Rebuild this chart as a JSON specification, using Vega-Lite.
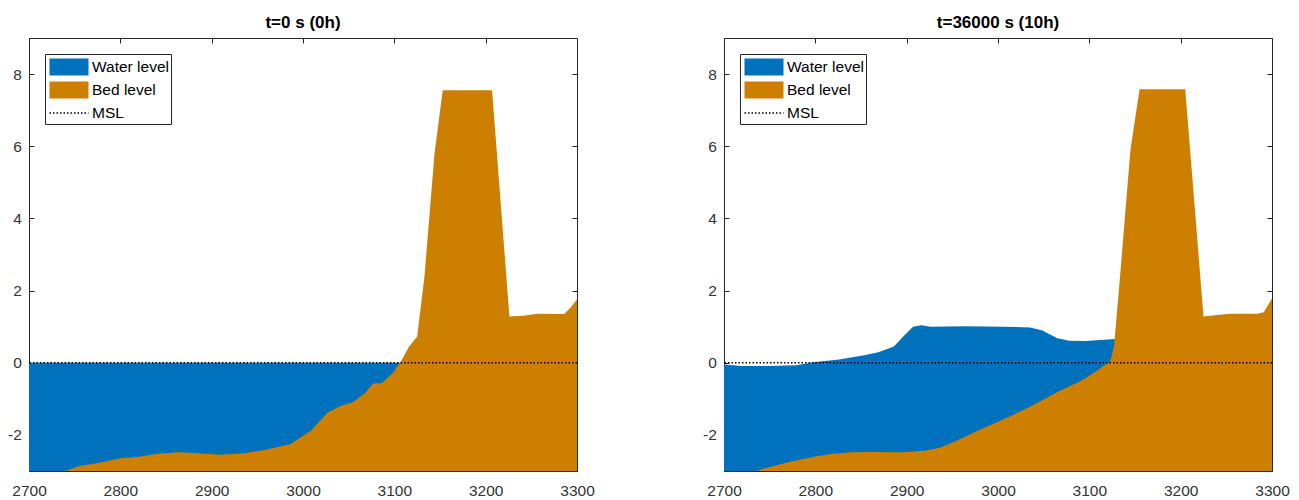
{
  "$schema": "https://vega.github.io/schema/vega-lite/v6.json",
  "padding": {"left": 7, "top": 13, "right": 5, "bottom": 2},
  "background": "white",
  "config": {
    "font": "Liberation Sans",
    "view": {"stroke": "#262626", "strokeWidth": 1},
    "axis": {"grid": false, "domain": false, "tickColor": "#262626", "tickSize": -5, "labelColor": "#333333", "labelFont": "Liberation Sans", "labelFontSize": 15.5, "labelFlush": false, "format": "d"},
    "axisX": {"labelPadding": 17},
    "axisY": {"labelPadding": 12.7, "labelExpr": "datum.value < 0 ? '-' + abs(datum.value) : '' + datum.value"},
    "title": {"font": "Liberation Sans", "fontSize": 17, "fontWeight": "bold", "color": "#000", "offset": 6},
    "legend": {
      "orient": "top-left", "offset": 16, "fillColor": "white", "strokeColor": "#262626", "padding": 2,
      "labelFontSize": 15.5, "labelFont": "Liberation Sans", "labelColor": "#000",
      "symbolSize": 400, "symbolOffset": 11, "labelOffset": 12, "rowPadding": -3,
      "symbolOpacity": 1, "symbolDash": [1.5, 2], "symbolStrokeWidth": 1.5
    }
  },
  "datasets": {
    "msl": [{"y": 0, "series": "MSL"}],
    "water0": [
      {"x": 2700, "y": 0, "series": "Water level"},
      {"x": 3109, "y": 0, "series": "Water level"}
    ],
    "bed0": [
      {"x": 2700, "y": -3.3, "series": "Bed level"},
      {"x": 2743, "y": -2.97, "series": "Bed level"},
      {"x": 2755, "y": -2.86, "series": "Bed level"},
      {"x": 2777, "y": -2.77, "series": "Bed level"},
      {"x": 2800, "y": -2.65, "series": "Bed level"},
      {"x": 2818, "y": -2.61, "series": "Bed level"},
      {"x": 2841, "y": -2.52, "series": "Bed level"},
      {"x": 2864, "y": -2.48, "series": "Bed level"},
      {"x": 2882, "y": -2.5, "series": "Bed level"},
      {"x": 2909, "y": -2.55, "series": "Bed level"},
      {"x": 2936, "y": -2.51, "series": "Bed level"},
      {"x": 2959, "y": -2.41, "series": "Bed level"},
      {"x": 2986, "y": -2.26, "series": "Bed level"},
      {"x": 3000, "y": -2.02, "series": "Bed level"},
      {"x": 3009, "y": -1.88, "series": "Bed level"},
      {"x": 3027, "y": -1.38, "series": "Bed level"},
      {"x": 3041, "y": -1.2, "series": "Bed level"},
      {"x": 3055, "y": -1.09, "series": "Bed level"},
      {"x": 3068, "y": -0.84, "series": "Bed level"},
      {"x": 3077, "y": -0.57, "series": "Bed level"},
      {"x": 3086, "y": -0.57, "series": "Bed level"},
      {"x": 3098, "y": -0.29, "series": "Bed level"},
      {"x": 3107, "y": 0.03, "series": "Bed level"},
      {"x": 3116, "y": 0.44, "series": "Bed level"},
      {"x": 3125, "y": 0.73, "series": "Bed level"},
      {"x": 3133, "y": 2.4, "series": "Bed level"},
      {"x": 3144, "y": 5.8, "series": "Bed level"},
      {"x": 3153, "y": 7.55, "series": "Bed level"},
      {"x": 3207, "y": 7.55, "series": "Bed level"},
      {"x": 3226, "y": 1.28, "series": "Bed level"},
      {"x": 3241, "y": 1.3, "series": "Bed level"},
      {"x": 3257, "y": 1.36, "series": "Bed level"},
      {"x": 3286, "y": 1.35, "series": "Bed level"},
      {"x": 3293, "y": 1.53, "series": "Bed level"},
      {"x": 3300, "y": 1.75, "series": "Bed level"}
    ],
    "water1": [
      {"x": 2700, "y": -0.05, "series": "Water level"},
      {"x": 2719, "y": -0.09, "series": "Water level"},
      {"x": 2749, "y": -0.09, "series": "Water level"},
      {"x": 2779, "y": -0.07, "series": "Water level"},
      {"x": 2800, "y": 0.02, "series": "Water level"},
      {"x": 2826, "y": 0.09, "series": "Water level"},
      {"x": 2852, "y": 0.2, "series": "Water level"},
      {"x": 2869, "y": 0.29, "series": "Water level"},
      {"x": 2886, "y": 0.45, "series": "Water level"},
      {"x": 2896, "y": 0.72, "series": "Water level"},
      {"x": 2907, "y": 1.0, "series": "Water level"},
      {"x": 2916, "y": 1.04, "series": "Water level"},
      {"x": 2926, "y": 1.0, "series": "Water level"},
      {"x": 2963, "y": 1.01, "series": "Water level"},
      {"x": 3005, "y": 1.0, "series": "Water level"},
      {"x": 3035, "y": 0.98, "series": "Water level"},
      {"x": 3048, "y": 0.9, "series": "Water level"},
      {"x": 3065, "y": 0.68, "series": "Water level"},
      {"x": 3078, "y": 0.61, "series": "Water level"},
      {"x": 3095, "y": 0.6, "series": "Water level"},
      {"x": 3112, "y": 0.63, "series": "Water level"},
      {"x": 3125, "y": 0.65, "series": "Water level"},
      {"x": 3128, "y": 0.66, "series": "Water level"}
    ],
    "bed1": [
      {"x": 2700, "y": -3.3, "series": "Bed level"},
      {"x": 2743, "y": -2.94, "series": "Bed level"},
      {"x": 2770, "y": -2.76, "series": "Bed level"},
      {"x": 2800, "y": -2.6, "series": "Bed level"},
      {"x": 2817, "y": -2.53, "series": "Bed level"},
      {"x": 2839, "y": -2.48, "series": "Bed level"},
      {"x": 2864, "y": -2.47, "series": "Bed level"},
      {"x": 2894, "y": -2.48, "series": "Bed level"},
      {"x": 2920, "y": -2.44, "series": "Bed level"},
      {"x": 2937, "y": -2.35, "series": "Bed level"},
      {"x": 2954, "y": -2.17, "series": "Bed level"},
      {"x": 2980, "y": -1.86, "series": "Bed level"},
      {"x": 3005, "y": -1.58, "series": "Bed level"},
      {"x": 3035, "y": -1.22, "series": "Bed level"},
      {"x": 3065, "y": -0.81, "series": "Bed level"},
      {"x": 3091, "y": -0.5, "series": "Bed level"},
      {"x": 3108, "y": -0.23, "series": "Bed level"},
      {"x": 3123, "y": 0.05, "series": "Bed level"},
      {"x": 3127, "y": 0.45, "series": "Bed level"},
      {"x": 3133, "y": 2.2, "series": "Bed level"},
      {"x": 3145, "y": 5.9, "series": "Bed level"},
      {"x": 3155, "y": 7.58, "series": "Bed level"},
      {"x": 3205, "y": 7.58, "series": "Bed level"},
      {"x": 3225, "y": 1.28, "series": "Bed level"},
      {"x": 3253, "y": 1.36, "series": "Bed level"},
      {"x": 3284, "y": 1.36, "series": "Bed level"},
      {"x": 3291, "y": 1.4, "series": "Bed level"},
      {"x": 3300, "y": 1.78, "series": "Bed level"}
    ]
  },
  "spacing": 107,
  "resolve": {"scale": {"color": "independent", "fill": "independent", "stroke": "independent", "shape": "independent"}, "legend": {"color": "independent", "fill": "independent", "stroke": "independent", "shape": "independent"}},
  "hconcat": [
    {
      "title": "t=0 s (0h)",
      "width": 548,
      "height": 433,
      "resolve": {"axis": {"x": "independent", "y": "independent"}},
      "layer": [
        {
          "data": {"name": "water0"},
          "mark": {"type": "area", "clip": true, "opacity": 1},
          "encoding": {
            "x": {"field": "x", "type": "quantitative", "scale": {"domain": [2700, 3300], "nice": false}, "axis": {"values": [2700, 2800, 2900, 3000, 3100, 3200, 3300], "title": null, "orient": "bottom"}},
            "y": {"field": "y", "type": "quantitative", "stack": null, "scale": {"domain": [-3, 9], "nice": false, "zero": false}, "axis": {"values": [-2, 0, 2, 4, 6, 8], "title": null, "orient": "left"}},
            "y2": {"datum": -3},
            "color": {"field": "series", "type": "nominal", "scale": {"domain": ["Water level", "Bed level"], "range": ["#0072BD", "#CC7F00"]}, "legend": null}
          }
        },
        {
          "data": {"name": "bed0"},
          "mark": {"type": "area", "clip": true, "opacity": 1},
          "encoding": {
            "x": {"field": "x", "type": "quantitative", "axis": {"values": [2700, 2800, 2900, 3000, 3100, 3200, 3300], "title": null, "orient": "top", "labels": false}},
            "y": {"field": "y", "type": "quantitative", "stack": null, "axis": {"values": [-2, 0, 2, 4, 6, 8], "title": null, "orient": "right", "labels": false}},
            "y2": {"datum": -3},
            "color": {"field": "series", "type": "nominal", "legend": null}
          }
        },
        {
          "data": {"name": "msl"},
          "mark": {"type": "rule", "color": "#000000", "strokeDash": [1.5, 2], "strokeWidth": 1.5},
          "encoding": {
            "y": {"field": "y", "type": "quantitative", "axis": null}
          }
        },
        {
          "data": {"name": "msl"},
          "mark": {"type": "point", "filled": true, "size": 0, "opacity": 0},
          "encoding": {
            "y": {"field": "y", "type": "quantitative", "axis": null},
            "fill": {"field": "series", "type": "nominal", "scale": {"domain": ["Water level", "Bed level", "MSL"], "range": ["#0072BD", "#CC7F00", "transparent"]}, "legend": {"title": null, "symbolOpacity": 1}},
            "stroke": {"field": "series", "type": "nominal", "scale": {"domain": ["Water level", "Bed level", "MSL"], "range": ["transparent", "transparent", "#000000"]}, "legend": {"title": null, "symbolOpacity": 1}},
            "shape": {"field": "series", "type": "nominal", "scale": {"domain": ["Water level", "Bed level", "MSL"], "range": ["M-1.95,-0.85H1.95V0.85H-1.95Z", "M-1.95,-0.85H1.95V0.85H-1.95Z", "M-1.95,0H1.95"]}, "legend": {"title": null, "symbolOpacity": 1}}
          }
        }
      ]
    },
    {
      "title": "t=36000 s (10h)",
      "width": 548,
      "height": 433,
      "resolve": {"axis": {"x": "independent", "y": "independent"}},
      "layer": [
        {
          "data": {"name": "water1"},
          "mark": {"type": "area", "clip": true, "opacity": 1},
          "encoding": {
            "x": {"field": "x", "type": "quantitative", "scale": {"domain": [2700, 3300], "nice": false}, "axis": {"values": [2700, 2800, 2900, 3000, 3100, 3200, 3300], "title": null, "orient": "bottom"}},
            "y": {"field": "y", "type": "quantitative", "stack": null, "scale": {"domain": [-3, 9], "nice": false, "zero": false}, "axis": {"values": [-2, 0, 2, 4, 6, 8], "title": null, "orient": "left"}},
            "y2": {"datum": -3},
            "color": {"field": "series", "type": "nominal", "scale": {"domain": ["Water level", "Bed level"], "range": ["#0072BD", "#CC7F00"]}, "legend": null}
          }
        },
        {
          "data": {"name": "bed1"},
          "mark": {"type": "area", "clip": true, "opacity": 1},
          "encoding": {
            "x": {"field": "x", "type": "quantitative", "axis": {"values": [2700, 2800, 2900, 3000, 3100, 3200, 3300], "title": null, "orient": "top", "labels": false}},
            "y": {"field": "y", "type": "quantitative", "stack": null, "axis": {"values": [-2, 0, 2, 4, 6, 8], "title": null, "orient": "right", "labels": false}},
            "y2": {"datum": -3},
            "color": {"field": "series", "type": "nominal", "legend": null}
          }
        },
        {
          "data": {"name": "msl"},
          "mark": {"type": "rule", "color": "#000000", "strokeDash": [1.5, 2], "strokeWidth": 1.5},
          "encoding": {
            "y": {"field": "y", "type": "quantitative", "axis": null}
          }
        },
        {
          "data": {"name": "msl"},
          "mark": {"type": "point", "filled": true, "size": 0, "opacity": 0},
          "encoding": {
            "y": {"field": "y", "type": "quantitative", "axis": null},
            "fill": {"field": "series", "type": "nominal", "scale": {"domain": ["Water level", "Bed level", "MSL"], "range": ["#0072BD", "#CC7F00", "transparent"]}, "legend": {"title": null, "symbolOpacity": 1}},
            "stroke": {"field": "series", "type": "nominal", "scale": {"domain": ["Water level", "Bed level", "MSL"], "range": ["transparent", "transparent", "#000000"]}, "legend": {"title": null, "symbolOpacity": 1}},
            "shape": {"field": "series", "type": "nominal", "scale": {"domain": ["Water level", "Bed level", "MSL"], "range": ["M-1.95,-0.85H1.95V0.85H-1.95Z", "M-1.95,-0.85H1.95V0.85H-1.95Z", "M-1.95,0H1.95"]}, "legend": {"title": null, "symbolOpacity": 1}}
          }
        }
      ]
    }
  ]
}
